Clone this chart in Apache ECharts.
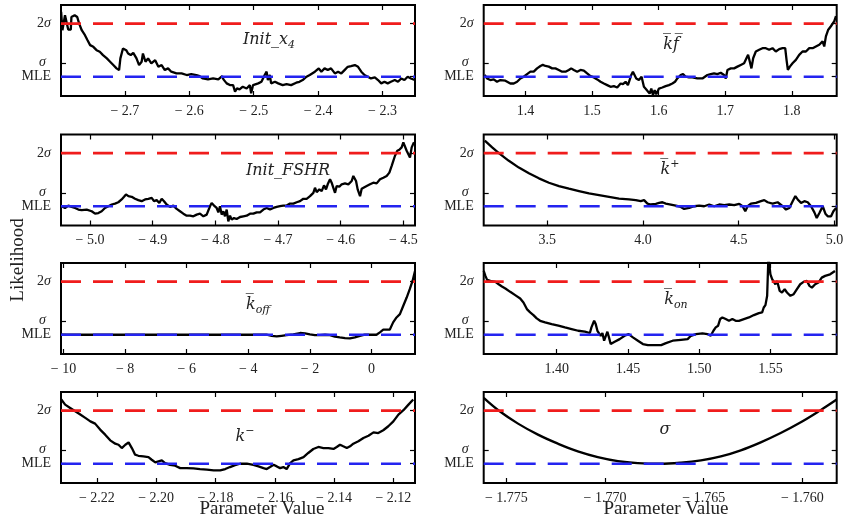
<!DOCTYPE html>
<html><head><meta charset="utf-8">
<script src="https://cdn.jsdelivr.net/npm/echarts@6/dist/echarts.min.js"></script>
<style>html,body{margin:0;padding:0;background:#fff}#c{width:850px;height:526px}</style>
</head><body><div id="c"></div>
<script>
// Likelihood levels (profile likelihood units): MLE, sigma, 2 sigma
const levels = { mle: 0, sigma: 1, twoSigma: 4 };
const yRange = [-1.45, 5.4];
const yTicks = [0, 1, 4];

// ---- Panel data [parameter value, likelihood] ----
const initX4 = [[-2.799,4.88],[-2.797,3.5],[-2.793,4.63],[-2.788,3.55],[-2.784,3.55],[-2.783,4.5],[-2.778,4.63],[-2.774,4.5],[-2.771,4.0],[-2.767,3.5],[-2.762,3.13],[-2.758,2.75],[-2.754,2.38],[-2.749,2.25],[-2.744,2.0],[-2.739,1.88],[-2.734,1.63],[-2.728,1.38],[-2.723,1.13],[-2.718,0.88],[-2.713,0.63],[-2.709,0.5],[-2.707,1.38],[-2.703,2.13],[-2.698,2.0],[-2.695,1.75],[-2.691,1.63],[-2.687,1.8],[-2.682,1.38],[-2.678,0.88],[-2.674,1.13],[-2.672,1.75],[-2.668,1.13],[-2.664,1.38],[-2.659,1.0],[-2.653,1.25],[-2.648,0.75],[-2.643,0.88],[-2.638,0.5],[-2.633,0.63],[-2.628,0.38],[-2.620,0.25],[-2.612,0.25],[-2.604,0.13],[-2.597,0.2],[-2.589,0.13],[-2.584,0.05],[-2.579,-0.13],[-2.571,-0.2],[-2.563,-0.13],[-2.555,-0.2],[-2.549,0.05],[-2.547,-0.2],[-2.542,-0.5],[-2.537,-0.63],[-2.532,-0.63],[-2.529,-1.13],[-2.526,-0.88],[-2.522,-0.95],[-2.517,-0.75],[-2.511,-0.88],[-2.506,-0.63],[-2.504,-1.25],[-2.501,-0.63],[-2.498,-0.75],[-2.493,-0.5],[-2.488,-0.38],[-2.483,0.13],[-2.480,0.38],[-2.478,-0.25],[-2.475,0.13],[-2.473,-0.5],[-2.467,-0.38],[-2.462,-0.5],[-2.455,-0.63],[-2.449,-0.55],[-2.442,-0.63],[-2.434,-0.45],[-2.429,-0.38],[-2.424,-0.25],[-2.418,0],[-2.413,0.13],[-2.405,0.38],[-2.403,0.5],[-2.399,0.63],[-2.395,0.38],[-2.390,0.63],[-2.385,0.5],[-2.380,0.63],[-2.374,0.25],[-2.369,0.38],[-2.364,0.25],[-2.359,0.5],[-2.354,0.75],[-2.349,0.8],[-2.343,0.88],[-2.338,0.75],[-2.333,0.38],[-2.328,0.13],[-2.323,0],[-2.318,-0.13],[-2.312,-0.05],[-2.307,-0.25],[-2.302,-0.5],[-2.297,-0.38],[-2.292,-0.5],[-2.287,-0.38],[-2.281,-0.25],[-2.276,-0.38],[-2.271,-0.13],[-2.266,-0.25],[-2.261,0],[-2.256,-0.13],[-2.250,-0.25]];

const kfBar = [[1.3388,0.13],[1.3424,-0.13],[1.3474,-0.25],[1.3524,-0.2],[1.3574,-0.38],[1.3624,-0.25],[1.3699,-0.3],[1.3774,-0.51],[1.3825,-0.51],[1.3875,-0.38],[1.3925,-0.13],[1.3975,0],[1.4025,0.2],[1.4075,0.38],[1.4125,0.38],[1.4175,0.63],[1.4226,0.81],[1.4261,0.89],[1.4301,0.81],[1.4351,0.76],[1.4401,0.63],[1.4451,0.63],[1.4501,0.51],[1.4551,0.38],[1.4602,0.38],[1.4652,0.51],[1.4687,0.63],[1.4727,0.51],[1.4777,0.38],[1.4827,0.51],[1.4877,0.46],[1.4927,0.25],[1.4977,0.05],[1.5028,-0.05],[1.5078,-0.2],[1.5128,-0.38],[1.5178,-0.51],[1.5228,-0.63],[1.5278,-0.76],[1.5328,-0.71],[1.5378,-0.81],[1.5429,-0.51],[1.5464,-0.56],[1.5504,-0.38],[1.5539,-0.63],[1.5564,-0.25],[1.5589,0.13],[1.5614,0.38],[1.5639,0.25],[1.5664,-0.13],[1.5704,-0.25],[1.5744,0],[1.5779,-0.76],[1.5815,-0.96],[1.5845,-0.81],[1.5865,-1.27],[1.5890,-0.89],[1.5915,-1.39],[1.5940,-1.01],[1.5965,-1.32],[1.6005,-0.89],[1.6055,-0.81],[1.6105,-0.71],[1.6155,-0.63],[1.6206,-0.51],[1.6246,-0.38],[1.6281,-0.13],[1.6331,0.13],[1.6366,0.2],[1.6406,0],[1.6456,-0.05],[1.6506,-0.05],[1.6581,-0.13],[1.6657,-0.13],[1.6732,0.13],[1.6782,0.2],[1.6832,0.25],[1.6882,0.2],[1.6932,0.3],[1.6982,0.13],[1.7008,-0.13],[1.7033,0.51],[1.7083,0.63],[1.7133,0.63],[1.7183,0.76],[1.7233,0.89],[1.7283,1.01],[1.7318,1.39],[1.7343,1.65],[1.7368,1.14],[1.7393,0.63],[1.7419,1.39],[1.7459,1.9],[1.7509,2.03],[1.7559,2.15],[1.7609,2.15],[1.7659,2.03],[1.7709,2.15],[1.7759,1.9],[1.7810,2.08],[1.7860,2.15],[1.7900,2.15],[1.7920,1.27],[1.7940,0.51],[1.7970,0.76],[1.8010,1.01],[1.8060,1.27],[1.8110,1.65],[1.8160,1.9],[1.8211,1.9],[1.8261,2.15],[1.8311,2.15],[1.8361,2.28],[1.8411,2.41],[1.8461,2.66],[1.8486,2.28],[1.8511,3.04],[1.8546,3.54],[1.8586,3.8],[1.8612,3.92],[1.8637,4.18],[1.8662,4.56]];

const initFSHR = [[-5.0452,0],[-5.0399,-0.13],[-5.0346,0.05],[-5.0293,-0.05],[-5.0239,-0.13],[-5.0186,-0.25],[-5.0133,-0.3],[-5.0053,-0.25],[-4.9973,-0.38],[-4.9920,-0.56],[-4.9867,-0.51],[-4.9814,-0.38],[-4.9761,-0.13],[-4.9707,0],[-4.9654,0.13],[-4.9601,0.2],[-4.9548,0.3],[-4.9495,0.51],[-4.9457,0.71],[-4.9426,0.89],[-4.9388,0.76],[-4.9335,0.71],[-4.9282,0.56],[-4.9229,0.46],[-4.9176,0.38],[-4.9122,0.51],[-4.9069,0.56],[-4.9016,0.63],[-4.8979,0.38],[-4.8936,0.46],[-4.8894,0.25],[-4.8856,0.56],[-4.8819,0.38],[-4.8777,0.13],[-4.8723,-0.05],[-4.8670,0.05],[-4.8617,-0.2],[-4.8564,-0.38],[-4.8511,-0.56],[-4.8457,-0.71],[-4.8404,-0.71],[-4.8351,-0.76],[-4.8298,-0.63],[-4.8245,-0.56],[-4.8191,-0.76],[-4.8138,-0.63],[-4.8085,0],[-4.8059,0.25],[-4.8021,0.05],[-4.7979,-0.13],[-4.7952,-0.46],[-4.7926,0],[-4.7899,-0.63],[-4.7872,-0.38],[-4.7846,-0.76],[-4.7819,-0.25],[-4.7793,-1.14],[-4.7766,-0.71],[-4.7739,-1.01],[-4.7702,-0.89],[-4.7660,-0.96],[-4.7606,-0.81],[-4.7553,-0.76],[-4.7500,-0.71],[-4.7447,-0.56],[-4.7394,-0.56],[-4.7340,-0.46],[-4.7287,-0.46],[-4.7234,-0.25],[-4.7181,-0.13],[-4.7128,-0.25],[-4.7074,-0.13],[-4.7021,-0.05],[-4.6968,0],[-4.6915,0.05],[-4.6862,0.05],[-4.6809,0.2],[-4.6755,0.2],[-4.6702,0.3],[-4.6649,0.38],[-4.6596,0.56],[-4.6543,0.56],[-4.6489,0.76],[-4.6436,1.01],[-4.6410,1.39],[-4.6383,1.06],[-4.6340,1.27],[-4.6303,1.14],[-4.6266,1.57],[-4.6234,1.27],[-4.6207,1.65],[-4.6170,2.03],[-4.6144,1.77],[-4.6117,1.39],[-4.6090,1.01],[-4.6064,1.52],[-4.6021,1.47],[-4.5984,1.65],[-4.5931,1.72],[-4.5878,1.65],[-4.5824,1.9],[-4.5798,2.28],[-4.5755,1.9],[-4.5729,1.27],[-4.5691,0.76],[-4.5665,1.32],[-4.5638,1.47],[-4.5585,1.52],[-4.5532,1.65],[-4.5479,1.77],[-4.5426,1.72],[-4.5372,2.03],[-4.5319,2.15],[-4.5266,2.28],[-4.5223,2.53],[-4.5186,3.04],[-4.5160,3.42],[-4.5133,3.8],[-4.5096,4.18],[-4.5064,4.25],[-4.5027,4.43],[-4.5000,4.81],[-4.4973,4.68],[-4.4947,4.18],[-4.4920,4.05],[-4.4894,3.67],[-4.4867,4.43],[-4.4830,4.81]];

const kPlusBar = [[3.1738,4.94],[3.2122,4.43],[3.2471,4.0],[3.2994,3.42],[3.3517,2.91],[3.4041,2.48],[3.4564,2.1],[3.5087,1.77],[3.5611,1.52],[3.6134,1.32],[3.6657,1.14],[3.7180,0.96],[3.7704,0.84],[3.8227,0.71],[3.8750,0.58],[3.9274,0.51],[3.9622,0.46],[3.9884,0.38],[4.0058,0.46],[4.0233,0.2],[4.0407,0.13],[4.0669,0.18],[4.0843,0.25],[4.1018,0.3],[4.1192,0.2],[4.1454,0.13],[4.1715,0.05],[4.1977,-0.05],[4.2152,-0.2],[4.2413,-0.13],[4.2675,0],[4.2936,0.05],[4.3198,0],[4.3460,0.13],[4.3721,0],[4.3983,0.13],[4.4245,0.08],[4.4506,0.13],[4.4768,0.08],[4.5030,0.18],[4.5204,0],[4.5344,-0.38],[4.5466,0],[4.5640,0.2],[4.5902,0.25],[4.6163,0.38],[4.6338,0.46],[4.6512,0.3],[4.6774,0.2],[4.7035,0.3],[4.7297,0],[4.7472,-0.25],[4.7646,-0.13],[4.7820,0.38],[4.7960,0.76],[4.8082,0.51],[4.8257,0.25],[4.8431,0.38],[4.8605,0.3],[4.8780,0],[4.8954,-0.46],[4.9077,-0.89],[4.9216,-0.51],[4.9390,0],[4.9530,-0.56],[4.9652,-0.76],[4.9826,-0.76],[4.9948,-0.38],[5.0088,-0.13]];

const kOffBar = [[-10.08,0],[-8,0],[-6,0],[-4,0],[-3.51,0],[-3.41,0],[-3.24,-0.08],[-3.08,-0.13],[-2.92,-0.08],[-2.76,-0.03],[-2.54,0.03],[-2.32,0.13],[-2.16,0.1],[-2.0,0.03],[-1.84,-0.03],[-1.68,-0.03],[-1.51,0],[-1.35,-0.03],[-1.19,-0.15],[-1.03,-0.2],[-0.86,-0.25],[-0.70,-0.28],[-0.54,-0.2],[-0.38,-0.08],[-0.22,0],[-0.05,0],[0.16,0],[0.27,0.18],[0.38,0.38],[0.49,0.38],[0.59,0.38],[0.70,0.93],[0.81,1.3],[0.92,1.55],[1.03,2.18],[1.14,2.8],[1.24,3.43],[1.33,4.05],[1.41,4.8]];

const kOnBar = [[1.3488,4.8],[1.3500,4.43],[1.3512,4.13],[1.3535,4.05],[1.3570,3.98],[1.3593,3.8],[1.3616,3.63],[1.3640,3.48],[1.3674,3.23],[1.3709,2.98],[1.3744,2.73],[1.3767,2.43],[1.3791,1.93],[1.3814,1.68],[1.3837,1.48],[1.3860,1.23],[1.3884,1.05],[1.3919,0.93],[1.3965,0.8],[1.4012,0.68],[1.4058,0.55],[1.4105,0.43],[1.4151,0.3],[1.4198,0.23],[1.4233,0.13],[1.4244,0.55],[1.4263,1.05],[1.4274,0.8],[1.4286,0.3],[1.4298,0.43],[1.4309,-0.08],[1.4321,0.13],[1.4333,-0.45],[1.4344,-0.58],[1.4356,0.23],[1.4367,-0.2],[1.4379,-0.7],[1.4407,-0.53],[1.4442,-0.33],[1.4477,-0.08],[1.4505,0.05],[1.4535,-0.2],[1.4570,-0.45],[1.4605,-0.7],[1.4640,-0.78],[1.4686,-0.78],[1.4733,-0.78],[1.4767,-0.63],[1.4814,-0.45],[1.4872,-0.38],[1.4919,-0.33],[1.4942,-0.08],[1.4977,0.05],[1.5023,0.1],[1.5058,0.05],[1.5081,-0.08],[1.5100,0.3],[1.5116,0.55],[1.5133,0.68],[1.5147,1.18],[1.5163,1.3],[1.5186,1.18],[1.5209,1.05],[1.5233,1.18],[1.5256,1.05],[1.5279,1.05],[1.5314,1.18],[1.5349,1.3],[1.5384,1.48],[1.5419,1.63],[1.5442,1.68],[1.5453,2.05],[1.5465,2.23],[1.5477,2.93],[1.5486,5.9],[1.5500,4.55],[1.5512,4.18],[1.5523,4.3],[1.5535,3.8],[1.5547,4.05],[1.5565,3.3],[1.5581,3.18],[1.5600,3.43],[1.5616,3.18],[1.5640,2.93],[1.5663,3.05],[1.5686,3.43],[1.5709,3.8],[1.5733,3.98],[1.5756,4.05],[1.5774,3.68],[1.5791,3.55],[1.5814,3.8],[1.5837,3.93],[1.5860,4.3],[1.5884,4.43],[1.5919,4.55],[1.5953,4.8]];

const kMinus = [[-2.2320,4.83],[-2.2307,4.45],[-2.2290,4.2],[-2.2273,3.95],[-2.2256,3.7],[-2.2239,3.45],[-2.2222,3.19],[-2.2206,3.02],[-2.2189,2.57],[-2.2172,2.19],[-2.2155,1.76],[-2.2138,1.51],[-2.2127,1.43],[-2.2116,1.18],[-2.2104,1.43],[-2.2093,1.61],[-2.2082,1.18],[-2.2071,0.68],[-2.2060,0.6],[-2.2043,0.55],[-2.2026,0.5],[-2.2015,0.3],[-2.2003,0.1],[-2.1992,0.18],[-2.1981,0.25],[-2.1970,0.05],[-2.1953,-0.08],[-2.1936,-0.15],[-2.1919,-0.33],[-2.1897,-0.33],[-2.1874,-0.35],[-2.1852,-0.4],[-2.1829,-0.45],[-2.1806,-0.5],[-2.1784,-0.5],[-2.1767,-0.4],[-2.1751,-0.25],[-2.1734,-0.1],[-2.1717,0],[-2.1694,0],[-2.1672,-0.08],[-2.1655,-0.2],[-2.1638,-0.33],[-2.1627,-0.4],[-2.1616,-0.25],[-2.1604,-0.08],[-2.1593,-0.2],[-2.1582,-0.33],[-2.1571,-0.25],[-2.1560,-0.4],[-2.1548,0.05],[-2.1537,0.25],[-2.1520,0.35],[-2.1503,0.5],[-2.1487,0.81],[-2.1470,1.11],[-2.1453,1.26],[-2.1436,1.18],[-2.1419,1.18],[-2.1402,1.11],[-2.1391,1.26],[-2.1380,1.43],[-2.1369,1.31],[-2.1357,1.18],[-2.1346,1.31],[-2.1335,1.51],[-2.1318,1.69],[-2.1301,1.94],[-2.1284,2.11],[-2.1267,2.36],[-2.1251,2.31],[-2.1234,2.52],[-2.1217,2.82],[-2.1200,3.19],[-2.1183,3.7],[-2.1166,4.03],[-2.1149,4.45],[-2.1133,4.83]];

const sigmaPar = [[-1.77615,4.96],[-1.77534,3.95],[-1.77441,3.02],[-1.77340,2.19],[-1.77239,1.51],[-1.77138,0.93],[-1.77037,0.5],[-1.76935,0.2],[-1.76834,0.05],[-1.76725,0],[-1.76615,0.08],[-1.76514,0.25],[-1.76413,0.55],[-1.76312,1.01],[-1.76211,1.61],[-1.76110,2.31],[-1.76008,3.12],[-1.75911,4.0],[-1.75826,4.83]];

// ---- axis ranges and tick labels ----
const rangeInitX4 = [-2.7992, -2.2496], ticksInitX4 = [-2.7, -2.6, -2.5, -2.4, -2.3];
const rangeKf = [1.3374, 1.8673], ticksKf = [1.4, 1.5, 1.6, 1.7, 1.8];
const rangeFSHR = [-5.0463, -4.4814], ticksFSHR = [-5.0, -4.9, -4.8, -4.7, -4.6, -4.5];
const rangeKPlus = [3.168, 5.012], ticksKPlus = [3.5, 4.0, 4.5, 5.0];
const rangeKOff = [-10.08, 1.41], ticksKOff = [-10, -8, -6, -4, -2, 0];
const rangeKOn = [1.3488, 1.5965], ticksKOn = [1.40, 1.45, 1.50, 1.55];
const rangeKMinus = [-2.2321, -2.1127], ticksKMinus = [-2.22, -2.20, -2.18, -2.16, -2.14, -2.12];
const rangeSigma = [-1.77615, -1.75826], ticksSigma = [-1.775, -1.770, -1.765, -1.760];

const titles = ['{m|Init_x}{sub|4}', '{m|k\u0305f\u0305}', '{m|Init_FSHR}', '{m|k\u0305}{sup|+}',
                '{m|k\u0305}{sub|off}', '{m|k\u0305}{sub|on}', '{m|k}{sup|\u2212}', '{m|\u03c3}'];
const xLabelText = 'Parameter Value';
const yLabelText = 'Likelihood';

const panels = [
  { data: initX4, range: rangeInitX4, ticks: ticksInitX4, dec: 1, pos: [269, 40] },
  { data: kfBar, range: rangeKf, ticks: ticksKf, dec: 1, pos: [671, 45] },
  { data: initFSHR, range: rangeFSHR, ticks: ticksFSHR, dec: 1, pos: [288, 171] },
  { data: kPlusBar, range: rangeKPlus, ticks: ticksKPlus, dec: 1, pos: [670, 170] },
  { data: kOffBar, range: rangeKOff, ticks: ticksKOff, dec: 0, pos: [258, 305] },
  { data: kOnBar, range: rangeKOn, ticks: ticksKOn, dec: 2, pos: [676, 300] },
  { data: kMinus, range: rangeKMinus, ticks: ticksKMinus, dec: 2, pos: [245, 437] },
  { data: sigmaPar, range: rangeSigma, ticks: ticksSigma, dec: 3, pos: [665, 430], smooth: true }
];

const cols = [{ left: 61, width: 354 }, { left: 483.7, width: 353 }];
const tops = [5, 134.5, 263, 392];
const H = 91;
const SERIF = 'Liberation Serif';

function fmt(dec) {
  return v => (v < 0 ? '\u2212 ' : '') + Math.abs(v).toFixed(dec);
}
function yFmt(v) {
  if (v === levels.twoSigma) return '2{i|\u03c3}';
  if (v === levels.sigma) return '{s|\u03c3}';
  return 'MLE';
}

const titleRich = {
  m: { fontFamily: 'DejaVu Serif', fontStyle: 'italic', fontSize: 16, lineHeight: 22, fill: '#222' },
  sub: { fontFamily: 'DejaVu Serif', fontStyle: 'italic', fontSize: 11, lineHeight: 13, verticalAlign: 'bottom', fill: '#222' },
  sup: { fontFamily: 'DejaVu Serif', fontStyle: 'italic', fontSize: 11, lineHeight: 13, verticalAlign: 'top', fill: '#222' }
};

const grid = [], xAxis = [], yAxis = [], series = [], graphic = [];
panels.forEach((p, i) => {
  const c = cols[i % 2], t = tops[Math.floor(i / 2)];
  grid.push({ left: c.left, top: t, width: c.width, height: H, show: true, borderColor: '#000', borderWidth: 2, outerBoundsMode: 'none' });
  const xt = { inside: true, length: 5, customValues: p.ticks, lineStyle: { color: '#000', width: 1.2 } };
  const yt = { inside: true, length: 5, customValues: yTicks, lineStyle: { color: '#000', width: 1.2 } };
  xAxis.push({ gridIndex: i, type: 'value', min: p.range[0], max: p.range[1], position: 'bottom',
    axisLine: { show: false, onZero: false }, axisTick: xt, splitLine: { show: false },
    axisLabel: { customValues: p.ticks, margin: 8, formatter: fmt(p.dec), color: '#222', fontFamily: SERIF, fontSize: 14 } });
  xAxis.push({ gridIndex: i, type: 'value', min: p.range[0], max: p.range[1], position: 'top',
    axisLine: { show: false, onZero: false }, axisTick: xt, splitLine: { show: false }, axisLabel: { show: false } });
  yAxis.push({ gridIndex: i, type: 'value', min: yRange[0], max: yRange[1], position: 'left',
    axisLine: { show: false, onZero: false }, axisTick: yt, splitLine: { show: false },
    axisLabel: { customValues: yTicks, margin: 10, formatter: yFmt, color: '#222', fontFamily: SERIF, fontSize: 14,
      rich: { i: { fontFamily: SERIF, fontStyle: 'italic', fontSize: 14, color: '#222' },
              s: { fontFamily: SERIF, fontStyle: 'italic', fontSize: 14, color: '#222', padding: [0, 5, 2, 0] } } } });
  yAxis.push({ gridIndex: i, type: 'value', min: yRange[0], max: yRange[1], position: 'right',
    axisLine: { show: false, onZero: false }, axisTick: yt, splitLine: { show: false }, axisLabel: { show: false } });
  series.push({ type: 'line', xAxisIndex: 2 * i, yAxisIndex: 2 * i, data: p.data, symbol: 'none', showSymbol: false,
    smooth: p.smooth ? 0.4 : false, clip: true, z: 2, lineStyle: { color: '#000', width: 2.3 }, animation: false });
  series.push({ type: 'line', xAxisIndex: 2 * i, yAxisIndex: 2 * i, symbol: 'none', z: 3, animation: false, silent: true,
    data: [[p.range[0], levels.twoSigma], [p.range[1], levels.twoSigma]],
    lineStyle: { color: '#f01c1c', width: 2.6, type: [20, 12] } });
  series.push({ type: 'line', xAxisIndex: 2 * i, yAxisIndex: 2 * i, symbol: 'none', z: 3, animation: false, silent: true,
    data: [[p.range[0], levels.mle], [p.range[1], levels.mle]],
    lineStyle: { color: '#2424f0', width: 2.6, type: [20, 12] } });
  graphic.push({ type: 'text', x: p.pos[0], y: p.pos[1], z: 10,
    style: { text: titles[i], rich: titleRich, align: 'center', verticalAlign: 'middle' } });
});

graphic.push({ type: 'text', x: 18, y: 260, rotation: Math.PI / 2, z: 10,
  style: { text: yLabelText, fontFamily: SERIF, fontSize: 19, fill: '#222', align: 'center', verticalAlign: 'middle' } });
graphic.push({ type: 'text', x: 262, y: 509, z: 10,
  style: { text: xLabelText, fontFamily: SERIF, fontSize: 19, fill: '#222', align: 'center', verticalAlign: 'middle' } });
graphic.push({ type: 'text', x: 666, y: 509, z: 10,
  style: { text: xLabelText, fontFamily: SERIF, fontSize: 19, fill: '#222', align: 'center', verticalAlign: 'middle' } });

const chart = echarts.init(document.getElementById('c'), null, { renderer: 'canvas' });
chart.setOption({ animation: false, backgroundColor: '#fff', grid, xAxis, yAxis, series, graphic });
</script>
</body></html>
